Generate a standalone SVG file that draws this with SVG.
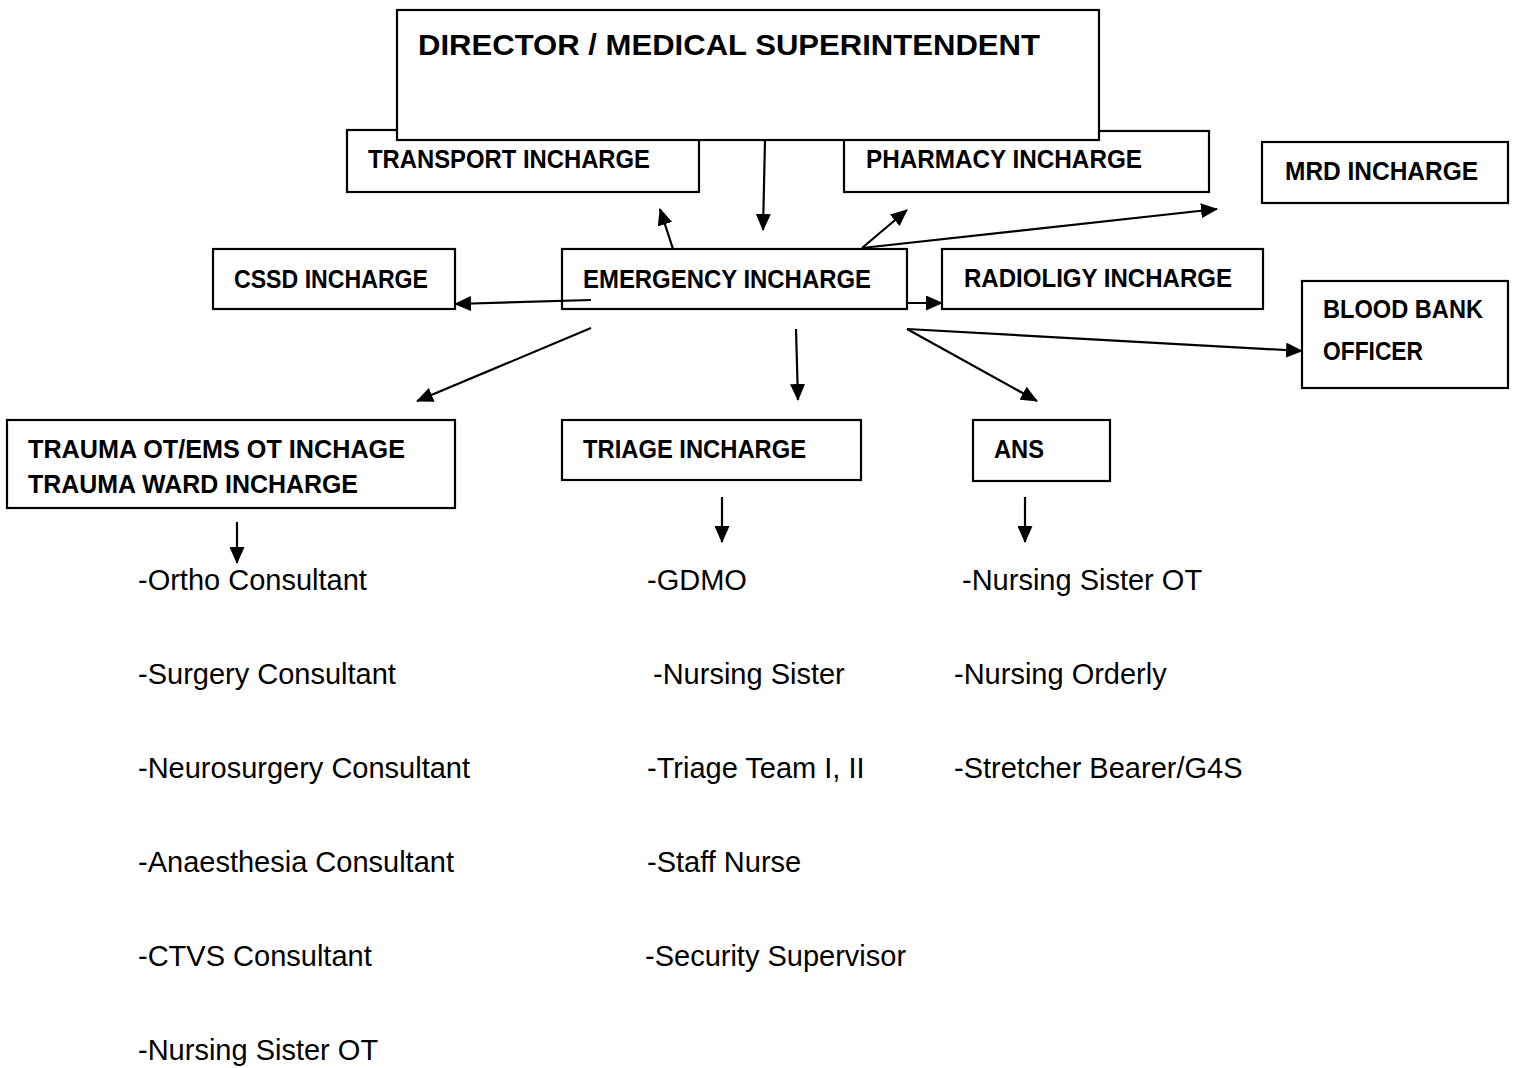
<svg xmlns="http://www.w3.org/2000/svg" width="1518" height="1068" viewBox="0 0 1518 1068">
<style>
.box{fill:#fff;stroke:#000;stroke-width:2.2}
.lbl{font-family:"Liberation Sans",Arial,sans-serif;font-weight:bold;font-size:25px;fill:#000}
.big{font-size:30px}
.item{font-family:"Liberation Sans",Arial,sans-serif;font-size:29px;fill:#000}
.conn line{stroke:#000;stroke-width:2.2;marker-end:url(#arr)}
</style>
<defs>
<marker id="arr" markerUnits="userSpaceOnUse" markerWidth="17" markerHeight="15" refX="16" refY="7.5" orient="auto">
<path d="M0,0 L17,7.5 L0,15 z" fill="#000"/>
</marker>
</defs>
<rect width="1518" height="1068" fill="#fff"/>
<g id="transport"><rect class="box" x="347" y="130" width="352" height="62"/><text class="lbl" x="368" y="168" textLength="282" lengthAdjust="spacingAndGlyphs">TRANSPORT INCHARGE</text></g>
<g id="pharmacy"><rect class="box" x="844" y="131" width="365" height="61"/><text class="lbl" x="866" y="168" textLength="276" lengthAdjust="spacingAndGlyphs">PHARMACY INCHARGE</text></g>
<g id="director"><rect class="box" x="397" y="10" width="702" height="130"/><text class="lbl big" x="418" y="55" textLength="622" lengthAdjust="spacingAndGlyphs">DIRECTOR / MEDICAL SUPERINTENDENT</text></g>
<g id="mrd"><rect class="box" x="1262" y="142" width="246" height="61"/><text class="lbl" x="1285" y="180" textLength="193" lengthAdjust="spacingAndGlyphs">MRD INCHARGE</text></g>
<g id="cssd"><rect class="box" x="213" y="249" width="242" height="60"/><text class="lbl" x="234" y="288" textLength="194" lengthAdjust="spacingAndGlyphs">CSSD INCHARGE</text></g>
<g id="emergency"><rect class="box" x="562" y="249" width="345" height="60"/><text class="lbl" x="583" y="288" textLength="288" lengthAdjust="spacingAndGlyphs">EMERGENCY INCHARGE</text></g>
<g id="radiology"><rect class="box" x="942" y="249" width="321" height="60"/><text class="lbl" x="964" y="287" textLength="268" lengthAdjust="spacingAndGlyphs">RADIOLIGY INCHARGE</text></g>
<g id="bloodbank"><rect class="box" x="1302" y="281" width="206" height="107"/><text class="lbl" x="1323" y="318" textLength="160" lengthAdjust="spacingAndGlyphs">BLOOD BANK</text><text class="lbl" x="1323" y="360" textLength="100" lengthAdjust="spacingAndGlyphs">OFFICER</text></g>
<g id="trauma"><rect class="box" x="7" y="420" width="448" height="88"/><text class="lbl" x="28" y="458" textLength="377" lengthAdjust="spacingAndGlyphs">TRAUMA OT/EMS OT INCHAGE</text><text class="lbl" x="28" y="493" textLength="330" lengthAdjust="spacingAndGlyphs">TRAUMA WARD INCHARGE</text></g>
<g id="triage"><rect class="box" x="562" y="420" width="299" height="60"/><text class="lbl" x="583" y="458" textLength="223" lengthAdjust="spacingAndGlyphs">TRIAGE INCHARGE</text></g>
<g id="ans"><rect class="box" x="973" y="420" width="137" height="61"/><text class="lbl" x="994" y="458" textLength="50" lengthAdjust="spacingAndGlyphs">ANS</text></g>
<g id="connectors" class="conn">
<line x1="765" y1="140" x2="763" y2="230"/>
<line x1="673" y1="249" x2="660" y2="209"/>
<line x1="862" y1="248" x2="907" y2="210"/>
<line x1="862" y1="248" x2="1217" y2="209"/>
<line x1="591" y1="300" x2="455" y2="304"/>
<line x1="907" y1="303" x2="942" y2="303"/>
<line x1="591" y1="328" x2="417" y2="401"/>
<line x1="796" y1="329" x2="798" y2="400"/>
<line x1="907" y1="329" x2="1037" y2="401"/>
<line x1="907" y1="329" x2="1302" y2="351"/>
<line x1="237" y1="522" x2="237" y2="563"/>
<line x1="722" y1="497" x2="722" y2="542"/>
<line x1="1025" y1="497" x2="1025" y2="542"/>
</g>
<g id="trauma-staff">
<text class="item" x="138" y="590">-Ortho Consultant</text>
<text class="item" x="138" y="684">-Surgery Consultant</text>
<text class="item" x="138" y="778">-Neurosurgery Consultant</text>
<text class="item" x="138" y="872">-Anaesthesia Consultant</text>
<text class="item" x="138" y="966">-CTVS Consultant</text>
<text class="item" x="138" y="1060">-Nursing Sister OT</text>
</g>
<g id="triage-staff">
<text class="item" x="647" y="590">-GDMO</text>
<text class="item" x="653" y="684">-Nursing Sister</text>
<text class="item" x="647" y="778">-Triage Team I, II</text>
<text class="item" x="647" y="872">-Staff Nurse</text>
<text class="item" x="645" y="966">-Security Supervisor</text>
</g>
<g id="ans-staff">
<text class="item" x="962" y="590">-Nursing Sister OT</text>
<text class="item" x="954" y="684">-Nursing Orderly</text>
<text class="item" x="954" y="778">-Stretcher Bearer/G4S</text>
</g>
</svg>
